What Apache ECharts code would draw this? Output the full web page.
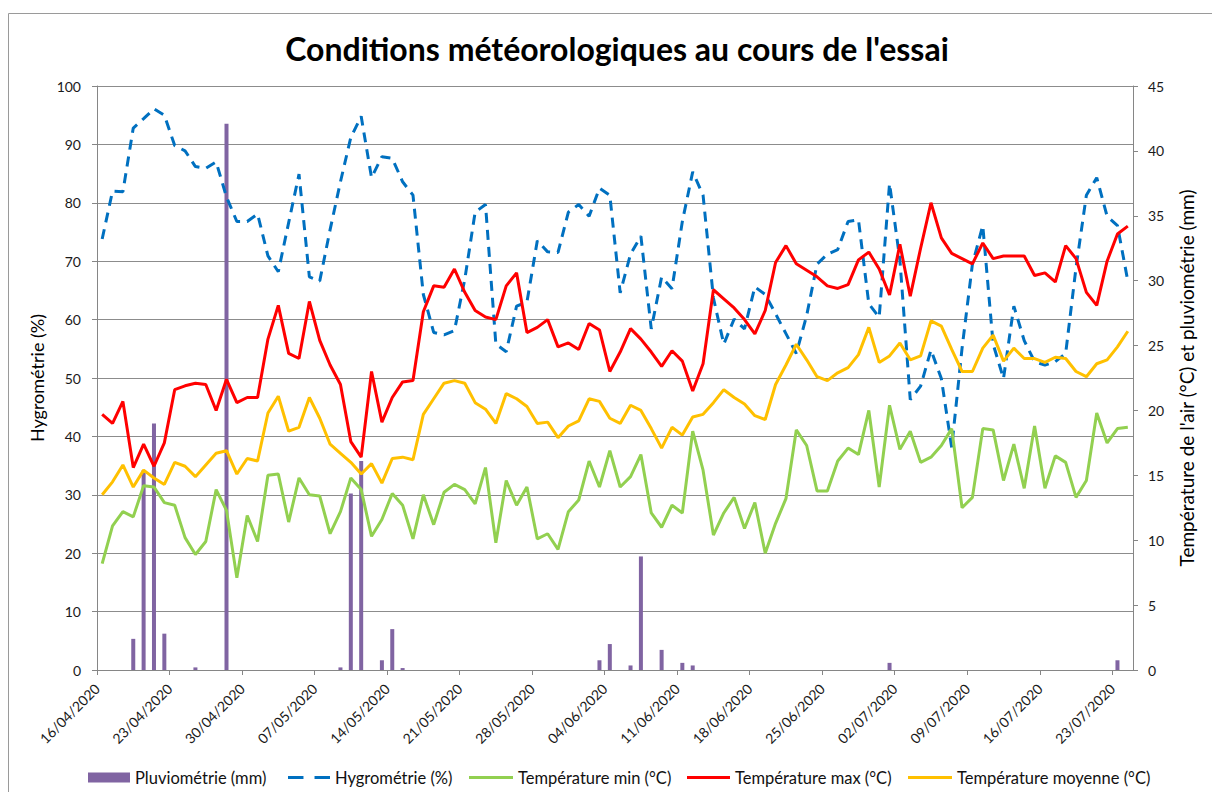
<!DOCTYPE html>
<html>
<head>
<meta charset="utf-8">
<script src="https://cdn.jsdelivr.net/npm/echarts@6/dist/echarts.min.js"></script>
<style>
html,body{margin:0;padding:0;background:#fff;}
#chart{width:1212px;height:792px;}
</style>
</head>
<body>
<div id="chart"></div>
<script>
// X tick labels (one every 7 days, first day = 16/04/2020)
var tickLabels = ['16/04/2020','23/04/2020','30/04/2020','07/05/2020','14/05/2020','21/05/2020','28/05/2020','04/06/2020','11/06/2020','18/06/2020','25/06/2020','02/07/2020','09/07/2020','16/07/2020','23/07/2020'];

// Daily values, 16/04/2020 .. 24/07/2020 (100 days)
var pluviometrie = [0,0,0,2.4,15.4,19.0,2.8,0,0,0.2,
  0,0,42.1,0,0,0,0,0,0,0,
  0,0,0,0.2,13.6,16.1,0,0.75,3.15,0.15,
  0,0,0,0,0,0,0,0,0,0,
  0,0,0,0,0,0,0,0,0.75,2.0,
  0,0.35,8.75,0,1.55,0,0.55,0.35,0,0,
  0,0,0,0,0,0,0,0,0,0,
  0,0,0,0,0,0,0.55,0,0,0,
  0,0,0,0,0,0,0,0,0,0,
  0,0,0,0,0,0,0,0,0.75,0];

var hygrometrie = [73.8,82.0,81.9,92.8,94.4,96.1,95.0,89.8,88.9,86.2,
  85.9,87.0,81.0,76.8,76.8,78.1,70.9,68.2,76.6,84.9,
  67.3,66.6,75.4,83.6,91.2,94.8,84.3,87.9,87.6,83.6,
  81.3,64.3,57.8,57.4,58.1,66.9,78.4,79.7,55.8,54.5,
  62.3,63.0,73.5,71.6,71.5,78.4,79.7,77.7,82.5,81.3,
  64.6,71.2,74.3,58.4,67.3,65.3,76.8,85.3,81.3,63.7,
  55.8,60.1,58.4,65.6,64.3,61.0,57.6,54.2,60.7,69.5,
  71.2,72.0,76.8,77.1,62.7,60.4,83.3,70.2,46.3,48.6,
  54.8,49.9,38.1,55.1,69.5,76.1,55.8,49.9,62.3,56.4,
  52.8,52.2,52.8,54.2,68.9,81.3,84.3,77.7,76.1,66.6];

var tempMin = [8.2,11.1,12.2,11.8,14.2,14.1,12.9,12.7,10.2,8.9,
  9.9,13.9,12.3,7.1,11.9,9.9,15.0,15.1,11.4,14.8,
  13.5,13.4,10.5,12.2,14.8,13.9,10.3,11.6,13.6,12.7,
  10.1,13.5,11.2,13.7,14.3,13.9,12.8,15.6,9.8,14.6,
  12.7,14.1,10.1,10.5,9.3,12.2,13.1,16.1,14.1,16.9,
  14.1,14.9,16.6,12.1,11.0,12.7,12.1,18.4,15.4,10.4,
  12.1,13.3,10.9,12.9,9.0,11.3,13.2,18.5,17.3,13.8,
  13.8,16.1,17.1,16.6,20.0,14.1,20.4,17.0,18.4,16.0,
  16.4,17.3,18.6,12.5,13.3,18.6,18.5,14.6,17.4,14.0,
  18.8,14.0,16.5,16.0,13.3,14.6,19.8,17.5,18.6,18.7];

var tempMax = [19.7,19.0,20.7,15.6,17.4,15.7,17.5,21.6,21.9,22.1,
  22.0,20.0,22.4,20.6,21.0,21.0,25.5,28.1,24.4,24.0,
  28.4,25.4,23.5,22.0,17.6,16.4,23.0,19.1,21.0,22.2,
  22.3,27.6,29.6,29.5,30.9,29.1,27.7,27.2,27.0,29.6,
  30.6,26.0,26.4,27.0,24.9,25.2,24.7,26.7,26.2,23.0,
  24.5,26.3,25.5,24.5,23.4,24.6,23.8,21.5,23.6,29.3,
  28.6,27.9,27.0,25.9,27.7,31.4,32.7,31.3,30.8,30.3,
  29.6,29.4,29.7,31.6,32.2,30.9,28.9,32.8,28.8,32.5,
  36.0,33.3,32.1,31.7,31.3,32.9,31.7,31.9,31.9,31.9,
  30.4,30.6,29.9,32.7,31.7,29.1,28.1,31.5,33.6,34.2];

var tempMoy = [13.5,14.5,15.8,14.1,15.4,14.8,14.3,16.0,15.7,14.9,
  15.8,16.7,16.9,15.1,16.3,16.1,19.8,21.1,18.4,18.7,
  21.0,19.4,17.4,16.7,16.0,15.1,15.9,14.4,16.3,16.4,
  16.2,19.7,20.9,22.1,22.3,22.1,20.6,20.1,19.0,21.3,
  20.9,20.3,19.0,19.1,17.9,18.8,19.2,20.9,20.7,19.4,
  19.0,20.4,20.0,18.6,17.1,18.7,18.1,19.5,19.7,20.6,
  21.6,21.0,20.5,19.6,19.3,22.0,23.5,25.1,23.9,22.6,
  22.3,22.9,23.3,24.3,26.4,23.7,24.2,25.2,23.9,24.2,
  26.9,26.5,24.7,23.0,23.0,24.8,25.8,23.8,24.8,24.0,
  24.0,23.7,24.1,24.0,23.0,22.6,23.6,23.9,24.9,26.1];

var names = ['Pluviométrie (mm)','Hygrométrie (%)','Température min (°C)','Température max (°C)','Température moyenne (°C)'];

// each day's value is placed at the middle of its day on the day-count axis
function byDay(arr){ return arr.map(function(v,i){ return [i+0.5, v]; }); }

var FONT = 'Lato';
var chart = echarts.init(document.getElementById('chart'), null, {renderer:'svg'});

var ICON_SOLID = 'path://M0,0h44v3h-44z';
var ICON_DASH = 'path://M0,0h14v3h-14zM24,0h14v3h-14z';

function legendAt(left, name, icon, w, h){
  return {
    left: left, top: 764, data:[{name:name, icon:icon}], itemWidth: w, itemHeight: h, itemGap: 5,
    symbolKeepAspect:false,
    textStyle:{fontFamily:FONT, fontSize:16.5, color:'#111'}, selectedMode:false
  };
}

chart.setOption({
  animation:false,
  backgroundColor:'#fff',
  textStyle:{fontFamily:FONT},
  graphic:[{
    type:'rect', shape:{x:8.5,y:13.5,width:1300,height:900},
    style:{fill:'none', stroke:'#9a9a9a', lineWidth:1}, silent:true, z:-10
  }],
  title:{
    text:"Conditions météorologiques au cours de l'essai",
    left:612, textAlign:'center', top:27,
    textStyle:{fontFamily:FONT, fontSize:32, fontWeight:'bold', color:'#000'}
  },
  legend:[
    legendAt(83, names[0], 'rect', 42, 10),
    legendAt(283, names[1], ICON_DASH, 42, 3),
    legendAt(464, names[2], ICON_SOLID, 44, 3),
    legendAt(682, names[3], ICON_SOLID, 43, 3),
    legendAt(903, names[4], ICON_SOLID, 44, 3)
  ],
  grid:{left:97, right:79, top:86, bottom:122, containLabel:false},
  xAxis:{
    type:'value', min:0, max:100, interval:7,
    axisLine:{show:true, lineStyle:{color:'#868686', width:1}},
    axisTick:{show:true, length:5, inside:false, lineStyle:{color:'#868686'}},
    splitLine:{show:false},
    axisLabel:{
      rotate:45, margin:16, fontFamily:FONT, fontSize:14, color:'#1a1a1a',
      showMaxLabel:false,
      formatter:function(v){ var k=Math.round(v/7); return (v%7===0 && tickLabels[k]) ? tickLabels[k] : ''; }
    }
  },
  yAxis:[{
    type:'value', min:0, max:100, interval:10, position:'left',
    name:'Hygrométrie (%)', nameLocation:'middle', nameRotate:90, nameGap:47,
    nameTextStyle:{fontFamily:FONT, fontSize:18, color:'#000'},
    axisLine:{show:true, lineStyle:{color:'#868686'}},
    axisTick:{show:true, length:5, lineStyle:{color:'#868686'}},
    splitLine:{show:true, lineStyle:{color:'#8c8c8c', width:1}},
    axisLabel:{margin:16, fontFamily:FONT, fontSize:14, color:'#1a1a1a'}
  },{
    type:'value', min:0, max:45, interval:5, position:'right',
    name:"Température de l'air (°C) et pluviométrie (mm)", nameLocation:'middle', nameRotate:90, nameGap:44,
    nameTextStyle:{fontFamily:FONT, fontSize:19, color:'#000'},
    axisLine:{show:true, lineStyle:{color:'#868686'}},
    axisTick:{show:true, length:5, lineStyle:{color:'#868686'}},
    splitLine:{show:false},
    axisLabel:{margin:15, fontFamily:FONT, fontSize:14, color:'#1a1a1a'}
  }],
  series:[
    {name:names[0], type:'bar', yAxisIndex:1, barWidth:4, data:byDay(pluviometrie),
     itemStyle:{color:'#8064A2'}, z:2},
    {name:names[1], type:'line', yAxisIndex:0, data:byDay(hygrometrie), symbol:'none',
     lineStyle:{color:'#0070C0', width:3, type:[10,7]}, itemStyle:{color:'#0070C0'}, z:3},
    {name:names[2], type:'line', yAxisIndex:1, data:byDay(tempMin), symbol:'none',
     lineStyle:{color:'#92D050', width:3}, itemStyle:{color:'#92D050'}, z:3},
    {name:names[3], type:'line', yAxisIndex:1, data:byDay(tempMax), symbol:'none',
     lineStyle:{color:'#FF0000', width:3}, itemStyle:{color:'#FF0000'}, z:3},
    {name:names[4], type:'line', yAxisIndex:1, data:byDay(tempMoy), symbol:'none',
     lineStyle:{color:'#FFC000', width:3}, itemStyle:{color:'#FFC000'}, z:3}
  ]
});
</script>
</body>
</html>
